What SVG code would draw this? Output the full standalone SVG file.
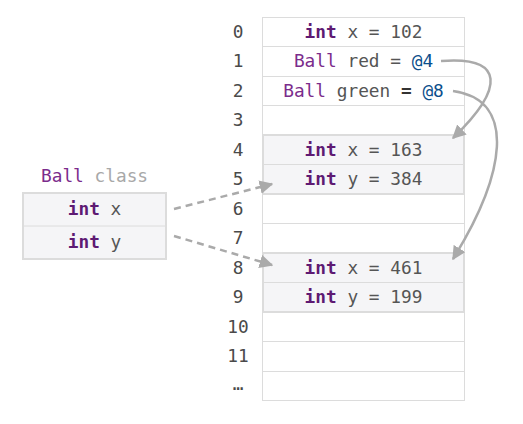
<svg xmlns="http://www.w3.org/2000/svg" width="523" height="424" viewBox="0 0 523 424">
<style>
text{font-family:"DejaVu Sans Mono","Liberation Mono",monospace;font-size:17.8px;fill:#555;}
.idx{text-anchor:middle;fill:#4a4a4a;}
.c{text-anchor:middle;}
.k{font-weight:bold;fill:#5e1a73;}
.t{fill:#7b2c8c;}
.r{fill:#0b4f8c;}
.g{fill:#a8a8a8;}
.cell{fill:#fff;stroke:#dcdcdc;stroke-width:1;}
.blk{fill:#f5f5f7;stroke:#dcdcdc;stroke-width:2;}
.sep{stroke:#dcdcdc;stroke-width:1;}
.ptr{fill:none;stroke:#aaa;stroke-width:2.5;}
.dash{fill:none;stroke:#aaa;stroke-width:2.5;stroke-dasharray:7 5;}
</style>
<defs>
<marker id="ah" viewBox="0 0 10 10" refX="9" refY="5" markerWidth="5.5" markerHeight="5.5" orient="auto" markerUnits="strokeWidth">
<path d="M0,0 L10,5 L0,10 z" fill="#aaa"/>
</marker>
</defs>
<g id="memory">
<rect class="cell" x="262.5" y="17.5" width="202" height="383"/>
<line class="sep" x1="262.5" y1="46.5" x2="464.5" y2="46.5"/>
<line class="sep" x1="262.5" y1="76.5" x2="464.5" y2="76.5"/>
<line class="sep" x1="262.5" y1="105.5" x2="464.5" y2="105.5"/>
<line class="sep" x1="262.5" y1="194.5" x2="464.5" y2="194.5"/>
<line class="sep" x1="262.5" y1="223.5" x2="464.5" y2="223.5"/>
<line class="sep" x1="262.5" y1="341.5" x2="464.5" y2="341.5"/>
<line class="sep" x1="262.5" y1="371.5" x2="464.5" y2="371.5"/>
</g>
<g id="idx">
<text class="idx" x="238" y="38">0</text>
<text class="idx" x="238" y="67">1</text>
<text class="idx" x="238" y="97">2</text>
<text class="idx" x="238" y="126">3</text>
<text class="idx" x="238" y="156">4</text>
<text class="idx" x="238" y="185">5</text>
<text class="idx" x="238" y="215">6</text>
<text class="idx" x="238" y="244">7</text>
<text class="idx" x="238" y="274">8</text>
<text class="idx" x="238" y="303">9</text>
<text class="idx" x="238" y="333">10</text>
<text class="idx" x="238" y="362">11</text>
<text class="idx" x="238" y="390">…</text>
</g>
<g id="cell0"><text class="c" x="363.5" y="38"><tspan class="k">int</tspan> x = 102</text></g>
<g id="cell1"><text class="c" x="363.5" y="67"><tspan class="t">Ball</tspan> red = <tspan class="r">@4</tspan></text></g>
<g id="cell2"><text class="c" x="363.5" y="97"><tspan class="t">Ball</tspan> green <tspan font-weight="bold" fill="#333">=</tspan> <tspan class="r">@8</tspan></text></g>
<g id="red">
<rect class="blk" x="263" y="135" width="201" height="59"/>
<line class="sep" x1="263" y1="164.5" x2="464" y2="164.5"/>
<text class="c" x="363.5" y="156"><tspan class="k">int</tspan> x = 163</text>
<text class="c" x="363.5" y="185"><tspan class="k">int</tspan> y = 384</text>
</g>
<g id="green">
<rect class="blk" x="263" y="253" width="201" height="59"/>
<line class="sep" x1="263" y1="282.5" x2="464" y2="282.5"/>
<text class="c" x="363.5" y="274"><tspan class="k">int</tspan> x = 461</text>
<text class="c" x="363.5" y="303"><tspan class="k">int</tspan> y = 199</text>
</g>
<g id="ballclass">
<text x="41" y="182"><tspan class="t">Ball</tspan> <tspan class="g">class</tspan></text>
<rect class="blk" x="23" y="193" width="143" height="66"/>
<line class="sep" x1="23" y1="226" x2="166" y2="226"/>
<text class="c" x="94.5" y="215"><tspan class="k">int</tspan> x</text>
<text class="c" x="94.5" y="248"><tspan class="k">int</tspan> y</text>
</g>
<g id="connectors">
<path class="ptr" d="M441,61 C505,56 505,88 453,138" marker-end="url(#ah)"/>
<path class="ptr" d="M453,91 C518,100 505,175 453,259" marker-end="url(#ah)"/>
<path class="dash" d="M174,209 L272,184" marker-end="url(#ah)"/>
<path class="dash" d="M174,236 L272,265" marker-end="url(#ah)"/>
</g>
</svg>
